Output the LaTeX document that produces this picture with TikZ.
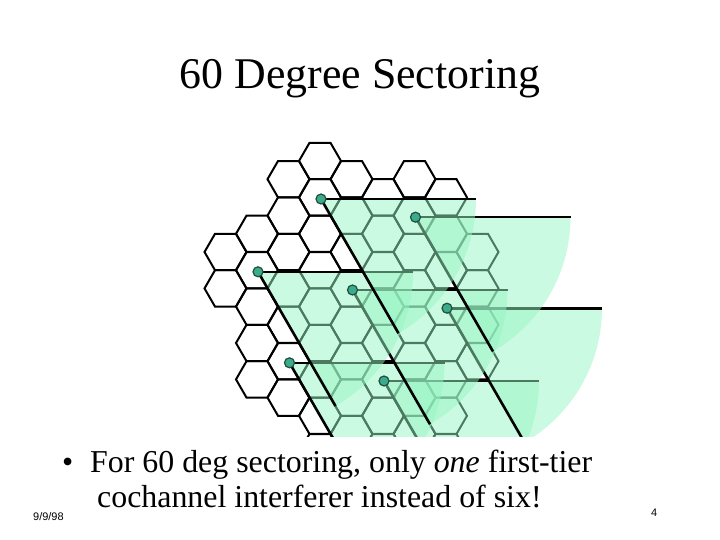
\documentclass[tikz,border=0pt]{standalone}
\usepackage{fontspec}
\setmainfont{Liberation Serif}
\newfontfamily\arialf{Liberation Sans}
\begin{document}
\begin{tikzpicture}[x=1bp,y=-1bp,
  hexline/.style={line width=2bp,black},
  secfill/.style={fill={rgb,255:red,150;green,245;blue,195},fill opacity=0.5},
  secline/.style={line width=2.6bp,black},
  site/.style={circle,inner sep=0pt,minimum size=10bp,fill={rgb,255:red,60;green,170;blue,140},draw={rgb,255:red,30;green,80;blue,60},line width=1.2bp}]
\useasboundingbox (0,0) rectangle (720,540);
\node[font=\fontsize{44}{52}\selectfont,anchor=base] (title) at (360,89) {60 Degree Sectoring};
\begin{scope}
\clip (0,0) rectangle (720,436);
\newcommand{\hexcol}[3]{%
  \foreach \k in {1,...,#3}{
    \pgfmathsetmacro{\yy}{#2+36.4*(\k-1)}
    \draw[hexline] (#1,\yy) ++(21,0) -- ++(120:21) -- ++(180:21) -- ++(240:21) -- ++(300:21) -- ++(0:21) -- cycle;
  }}
\hexcol{225.5}{252}{2}
\hexcol{257}{233.8}{5}
\hexcol{288.5}{179.2}{7}
\hexcol{320}{161}{9}
\hexcol{351.5}{179.2}{8}
\hexcol{383}{197.4}{8}
\hexcol{414.5}{179.2}{8}
\hexcol{446}{197.4}{8}
\hexcol{477.5}{252}{4}
\coordinate (d0) at (321,199);
\coordinate (d1) at (415.5,217.2);
\coordinate (d2) at (258,271.8);
\coordinate (d3) at (352.5,290);
\coordinate (d4) at (447,308.2);
\coordinate (d5) at (289.5,362.8);
\coordinate (d6) at (384,381);
\foreach \d in {d6,d5,d4,d3,d1,d2,d0}{
  \fill[secfill] (\d) -- ++(155,0) arc[start angle=0,end angle=60,radius=155] -- cycle;
  \draw[secline] (\d) -- ++(155,0);
  \draw[secline] (\d) -- ++(60:155);
}
\foreach \d in {d0,d1,d2,d3,d4,d5,d6}{ \node[site] (s\d) at (\d) {}; }
\end{scope}
\node[font=\fontsize{32}{38}\selectfont,anchor=base west,inner sep=0pt] (b) at (62,472) {\textbullet};
\node[font=\fontsize{32}{38}\selectfont,anchor=base west,inner sep=0pt] (l1) at (90,472) {For 60 deg sectoring, only \textit{one} first-tier};
\node[font=\fontsize{32}{38}\selectfont,anchor=base west,inner sep=0pt] (l2) at (97,507) {cochannel interferer instead of six!};
\node[font=\arialf\fontsize{11}{13}\selectfont,anchor=base west,inner sep=0pt] (date) at (33,520) {9/9/98};
\node[font=\arialf\fontsize{11}{13}\selectfont,anchor=base west,inner sep=0pt] (pg) at (651,516) {4};
\end{tikzpicture}
\end{document}
